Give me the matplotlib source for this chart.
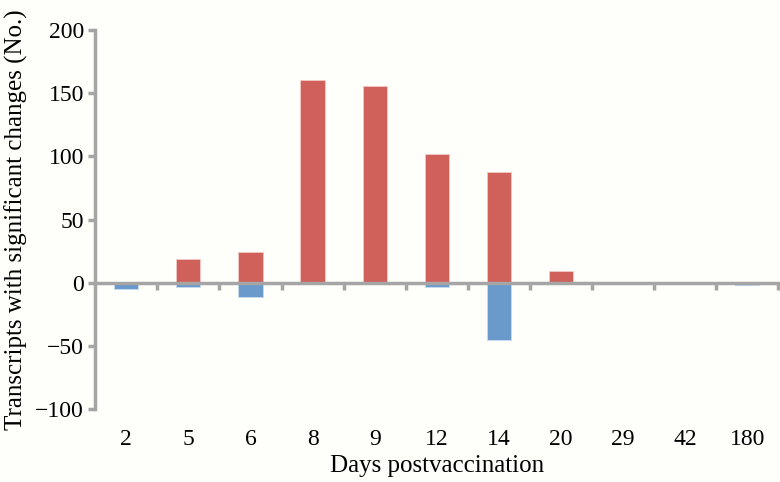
import matplotlib.pyplot as plt
import numpy as np

# Days postvaccination and transcript counts
days = ["2", "5", "6", "8", "9", "12", "14", "20", "29", "42", "180"]
up_regulated = [0, 19, 24, 160, 156, 102, 88, 9, 0, 0, 0]
down_regulated = [-5, -3, -11, 0, 0, -3, -45, 0, 0, 0, -2]

plt.rcParams['font.family'] = ['Liberation Serif', 'DejaVu Serif']
axis_grey = '#a5a5a5'

fig = plt.figure(figsize=(7.8, 4.82), dpi=100)
fig.patch.set_facecolor('#fefefb')
ax = fig.add_axes([0.122, 0.151, 0.876, 0.787])
ax.set_facecolor('#fefefb')

x = np.arange(len(days))
ax.bar(x, up_regulated, width=0.39, color='#d0605a', edgecolor='#f3c9c5', linewidth=0.6, zorder=2)
ax.bar(x, down_regulated, width=0.39, color='#6a99cc', edgecolor='#c9dcef', linewidth=0.6, zorder=2)

ax.set_xlim(-0.5, len(days) - 0.5)
ax.set_ylim(-100, 200)
ax.set_yticks(np.arange(-100, 201, 50))
ax.set_yticklabels(['\u2212100', '\u221250', '0', '50', '100', '150', '200'])

# category axis sits at zero, labels stay at the bottom
ax.spines['bottom'].set_position(('data', 0))
ax.spines['top'].set_visible(False)
ax.spines['right'].set_visible(False)
for side in ['left', 'bottom']:
    ax.spines[side].set_color(axis_grey)
    ax.spines[side].set_linewidth(2.5)
    ax.spines[side].set_zorder(3)

ax.set_xticks(x)
ax.set_xticklabels(days)
ax.set_xticks(np.arange(len(days)) + 0.5, minor=True)
ax.tick_params(axis='x', which='major', length=0, pad=105, labelsize=17)
ax.tick_params(axis='x', which='minor', length=5, width=2.5, color=axis_grey, direction='out')
ax.tick_params(axis='y', length=5, width=2.5, color=axis_grey, direction='out', labelsize=17, pad=3)

ax.set_xlabel('Days postvaccination', fontsize=18, labelpad=4)
ax.set_ylabel('Transcripts with significant changes (No.)', fontsize=18, labelpad=5)

plt.savefig('out.png', dpi=100, facecolor=fig.get_facecolor())
